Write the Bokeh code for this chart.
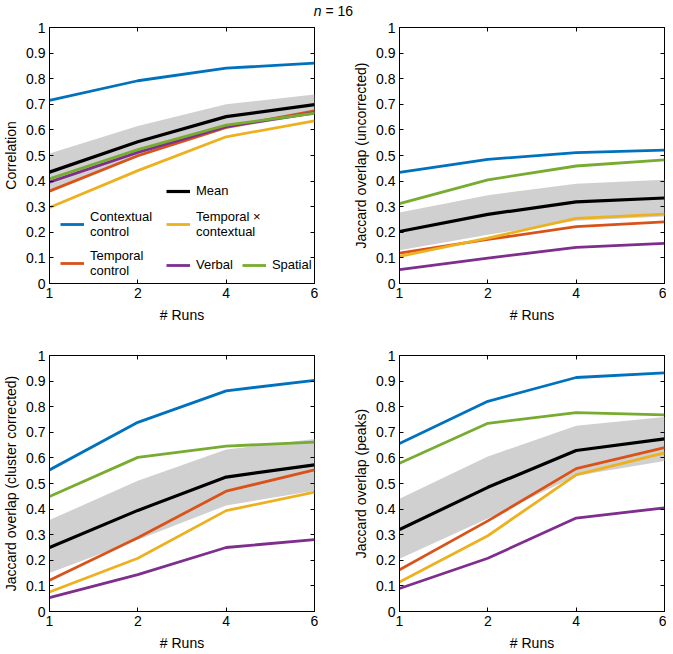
from bokeh.plotting import figure
from bokeh.models import Range1d, FixedTicker, LinearAxis, Legend, LegendItem, Div
from bokeh.layouts import column, row
from bokeh.embed import file_html
from bokeh.resources import INLINE

# ---------------- data ----------------
runs = [1, 2, 4, 6]
run_labels = ["1", "2", "4", "6"]
y_ticks = [0, 0.1, 0.2, 0.3, 0.4, 0.5, 0.6, 0.7, 0.8, 0.9, 1]
y_tick_labels = ["0", "0.1", "0.2", "0.3", "0.4", "0.5", "0.6", "0.7", "0.8", "0.9", "1"]

series_names = ["Contextual\ncontrol", "Temporal\ncontrol", "Temporal \u00d7\ncontextual",
                "Verbal", "Spatial", "Mean"]

# Panel A: Correlation
a_contextual = [0.715, 0.792, 0.841, 0.861]
a_temporal = [0.361, 0.499, 0.610, 0.674]
a_temp_ctx = [0.297, 0.441, 0.573, 0.635]
a_verbal = [0.396, 0.512, 0.613, 0.667]
a_spatial = [0.409, 0.523, 0.619, 0.665]
a_mean = [0.435, 0.554, 0.652, 0.699]
a_band_lo = [0.362, 0.494, 0.604, 0.660]
a_band_hi = [0.508, 0.615, 0.700, 0.738]

# Panel B: Jaccard overlap (uncorrected)
b_contextual = [0.434, 0.485, 0.511, 0.521]
b_temporal = [0.119, 0.172, 0.222, 0.241]
b_temp_ctx = [0.106, 0.177, 0.254, 0.271]
b_verbal = [0.054, 0.099, 0.141, 0.157]
b_spatial = [0.312, 0.405, 0.459, 0.483]
b_mean = [0.203, 0.270, 0.319, 0.334]
b_band_lo = [0.130, 0.190, 0.245, 0.262]
b_band_hi = [0.277, 0.345, 0.390, 0.405]

# Panel C: Jaccard overlap (cluster corrected)
c_contextual = [0.553, 0.739, 0.862, 0.903]
c_temporal = [0.122, 0.288, 0.470, 0.553]
c_temp_ctx = [0.076, 0.208, 0.394, 0.466]
c_verbal = [0.054, 0.144, 0.250, 0.281]
c_spatial = [0.449, 0.602, 0.646, 0.662]
c_mean = [0.250, 0.395, 0.525, 0.573]
c_band_lo = [0.150, 0.280, 0.414, 0.472]
c_band_hi = [0.357, 0.511, 0.633, 0.674]

# Panel D: Jaccard overlap (peaks)
d_contextual = [0.656, 0.821, 0.914, 0.932]
d_temporal = [0.163, 0.354, 0.558, 0.640]
d_temp_ctx = [0.115, 0.296, 0.534, 0.620]
d_verbal = [0.090, 0.208, 0.365, 0.405]
d_spatial = [0.579, 0.735, 0.777, 0.768]
d_mean = [0.320, 0.485, 0.629, 0.674]
d_band_lo = [0.206, 0.363, 0.530, 0.588]
d_band_hi = [0.440, 0.605, 0.726, 0.760]

colors = ["#0072BD", "#D95319", "#EDB120", "#7E2F8E", "#77AC30", "#000000"]
FONT = "Liberation Sans"
FS = "14px"
LFS = "13px"

xpos = list(range(len(runs)))


def make_panel(ylabel, series, band_lo, band_hi, left, top_border, with_legend=False):
    p = figure(frame_width=265, frame_height=256, output_backend="svg",
               toolbar_location=None, x_range=Range1d(0, len(runs) - 1),
               y_range=Range1d(0, 1), min_border_left=44,
               min_border_right=(36 if left else 2), min_border_top=top_border,
               min_border_bottom=0)
    p.background_fill_color = "white"
    p.border_fill_color = "white"
    p.outline_line_color = "black"
    p.outline_line_width = 1
    p.xgrid.visible = False
    p.ygrid.visible = False

    xt = FixedTicker(ticks=xpos, minor_ticks=[])
    yt = FixedTicker(ticks=y_ticks, minor_ticks=[])
    xo = {i: lab for i, lab in zip(xpos, run_labels)}
    yo = {t: lab for t, lab in zip(y_ticks, y_tick_labels)}

    for ax, tk, ov in ((p.xaxis[0], xt, xo), (p.yaxis[0], yt, yo)):
        ax.ticker = tk
        ax.major_label_overrides = ov
        ax.major_tick_in = 4
        ax.major_tick_out = 0
        ax.minor_tick_in = 0
        ax.minor_tick_out = 0
        ax.axis_line_color = "black"
        ax.major_tick_line_color = "black"
        ax.major_label_text_font = FONT
        ax.major_label_text_font_size = FS
        ax.major_label_text_color = "black"
        ax.axis_label_text_font = FONT
        ax.axis_label_text_font_size = FS
        ax.axis_label_text_font_style = "normal"
        ax.axis_label_text_color = "black"
    p.xaxis[0].axis_label = "# Runs"
    p.xaxis[0].major_label_standoff = 4
    p.xaxis[0].axis_label_standoff = 6
    p.yaxis[0].axis_label = ylabel
    p.yaxis[0].major_label_standoff = 4
    p.yaxis[0].axis_label_standoff = 4

    # tick-only axes on the right and top (MATLAB-style box ticks)
    for loc, tk in (("right", yt), ("above", xt)):
        ax2 = LinearAxis(ticker=tk, major_label_text_font_size="0px",
                         major_label_text_color=None,
                         major_label_standoff=0, major_tick_in=4, major_tick_out=0,
                         minor_tick_in=0, minor_tick_out=0, axis_line_color=None,
                         major_tick_line_color="black")
        p.add_layout(ax2, loc)

    p.varea(x=xpos, y1=band_lo, y2=band_hi, fill_color="#d0d0d0", fill_alpha=1.0)
    rs = []
    for vals, col in zip(series, colors):
        lw = 3.2 if col == "#000000" else 2.8
        r = p.line(xpos, vals, line_color=col, line_width=lw)
        rs.append(r)

    if with_legend:
        def mk(items, loc, orient="vertical"):
            lg = Legend(items=items, location=loc, orientation=orient,
                        border_line_alpha=0, background_fill_alpha=0,
                        padding=0, margin=0, spacing=9,
                        glyph_width=24, glyph_height=12, label_height=12,
                        label_standoff=6,
                        label_text_font=FONT, label_text_font_size=LFS,
                        label_text_line_height=1.0, label_text_color="black")
            p.add_layout(lg, "center")
        it = {n: LegendItem(label=n, renderers=[r]) for n, r in zip(series_names, rs)}
        mk([it["Mean"]], (117, 85))
        mk([it["Contextual\ncontrol"]], (11, 44))
        mk([it["Temporal \u00d7\ncontextual"]], (117, 44))
        mk([it["Temporal\ncontrol"]], (11, 5))
        mk([it["Verbal"], it["Spatial"]], (117, 11), "horizontal")
    return p


pA = make_panel("Correlation",
                [a_contextual, a_temporal, a_temp_ctx, a_verbal, a_spatial, a_mean],
                a_band_lo, a_band_hi, True, 11, with_legend=True)
pB = make_panel("Jaccard overlap (uncorrected)",
                [b_contextual, b_temporal, b_temp_ctx, b_verbal, b_spatial, b_mean],
                b_band_lo, b_band_hi, False, 11)
pC = make_panel("Jaccard overlap (cluster corrected)",
                [c_contextual, c_temporal, c_temp_ctx, c_verbal, c_spatial, c_mean],
                c_band_lo, c_band_hi, True, 30)
pD = make_panel("Jaccard overlap (peaks)",
                [d_contextual, d_temporal, d_temp_ctx, d_verbal, d_spatial, d_mean],
                d_band_lo, d_band_hi, False, 30)

title = Div(text="<i>n</i> = 16", width=657, height=16, margin=(0, 0, 0, 0),
            styles={"text-align": "center", "font-family": FONT, "font-size": FS,
                    "color": "black", "width": "657px", "height": "16px",
                    "padding-left": "10px", "padding-top": "1px"})

layout = column(title, row(pA, pB), row(pC, pD), spacing=0)

with open("out.html", "w") as f:
    f.write(file_html(layout, INLINE))
